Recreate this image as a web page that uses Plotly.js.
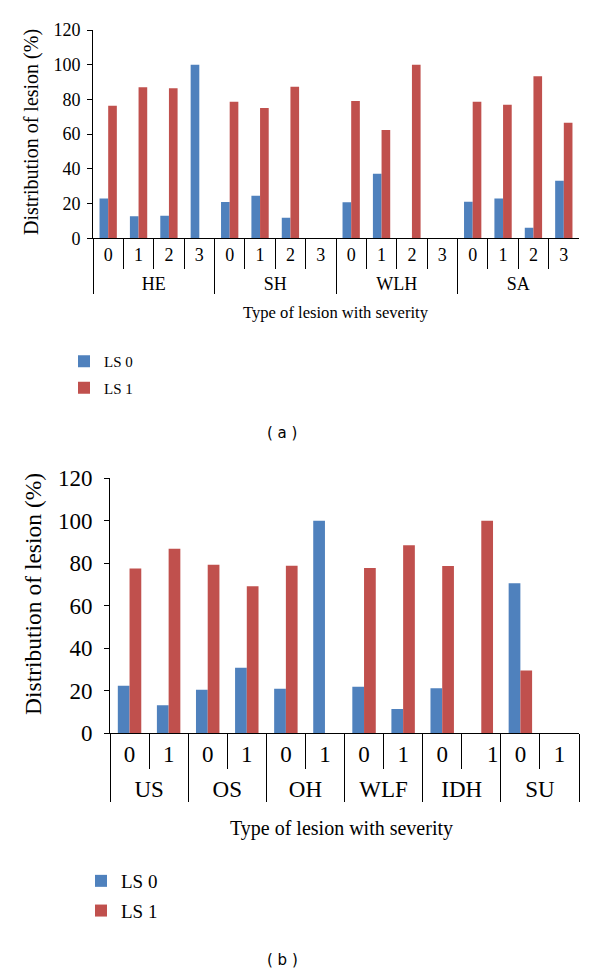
<!DOCTYPE html>
<html>
<head>
<meta charset="utf-8">
<script src="https://cdn.plot.ly/plotly-3.0.1.min.js"></script>
<style>html,body{margin:0;padding:0;background:#fff;}#chart{width:600px;height:976px;}</style>
</head>
<body>
<div id="chart"></div>
<script>
// ---- data (a) ----
const groupsA = ['HE', 'SH', 'WLH', 'SA'];
const severityA = ['0', '1', '2', '3'];
const ls0A = [23.0, 12.7, 13.0, 100, 20.9, 24.5, 11.9, null, 20.7, 37.2, 0, null, 21.1, 23.0, 6.1, 33.2];
const ls1A = [76.4, 87.0, 86.4, 0, 78.7, 75.1, 87.3, null, 79.1, 62.4, 100, null, 78.7, 77.0, 93.3, 66.6];

// ---- data (b) ----
const groupsB = ['US', 'OS', 'OH', 'WLF', 'IDH', 'SU'];
const severityB = ['0', '1'];
const ls0B = [22.4, 13.2, 20.5, 30.9, 21.0, 100, 21.9, 11.4, 21.2, 0, 70.6, null];
const ls1B = [77.5, 86.9, 79.3, 69.2, 78.9, 0, 77.8, 88.5, 78.7, 100, 29.6, null];

const seriesNames = ['LS 0', 'LS 1'];
const yTicks = [0, 20, 40, 60, 80, 100, 120];

// pad labels with a tall invisible space so the second label row sits lower (as in the original)
function multiX(groups, sevs, padSize, shifted) {
  const g = [], s = [];
  const pad = '<span style="font-size:' + padSize + 'px">\u00a0</span>';
  groups.forEach(gr => sevs.forEach(sv => {
    g.push(gr);
    const key = gr + ':' + sv;
    if (shifted && shifted === key) s.push(pad + '\u2007\u2007' + sv + pad);
    else s.push(pad + sv + pad);
  }));
  return [g, s];
}
const xA = multiX(groupsA, severityA, 25);
const xB = multiX(groupsB, severityB, 30, 'IDH:1');

const BLUE = '#4F81BD', RED = '#C0504D';
const SERIF = 'Liberation Serif, Times New Roman, serif';

const traces = [
  {type: 'bar', x: xA, y: ls0A, name: seriesNames[0], marker: {color: BLUE}, xaxis: 'x', yaxis: 'y', width: 0.285, offset: -0.285, legend: 'legend', legendgroup: 'a0'},
  {type: 'bar', x: xA, y: ls1A, name: seriesNames[1], marker: {color: RED}, xaxis: 'x', yaxis: 'y', width: 0.285, offset: 0, legend: 'legend', legendgroup: 'a1'},
  {type: 'bar', x: xB, y: ls0B, name: seriesNames[0], marker: {color: BLUE}, xaxis: 'x2', yaxis: 'y2', width: 0.3, offset: -0.3, legend: 'legend2', legendgroup: 'b0'},
  {type: 'bar', x: xB, y: ls1B, name: seriesNames[1], marker: {color: RED}, xaxis: 'x2', yaxis: 'y2', width: 0.3, offset: 0, legend: 'legend2', legendgroup: 'b1'}
];

const W = 600, H = 976;
const px = v => v / W;
const py = v => 1 - v / H;

function xaxisDef(domain, size, anchor, ticklen) {
  return {
    domain: domain, anchor: anchor, type: 'multicategory',
    showline: true, linecolor: '#000', linewidth: 1,
    ticks: 'outside', ticklen: ticklen, tickcolor: '#000', tickwidth: 1,
    showdividers: true, dividercolor: '#000', dividerwidth: 1,
    showgrid: false, zeroline: false, tickangle: 0,
    tickfont: {family: SERIF, size: size, color: '#000'}
  };
}
function yaxisDef(domain, size, anchor, standoff) {
  return {
    domain: domain, anchor: anchor, range: [0, 120], tickvals: yTicks,
    showline: true, linecolor: '#000', linewidth: 1,
    ticks: 'outside', ticklen: 5, tickcolor: '#000', ticklabelstandoff: standoff,
    showgrid: false, zeroline: false,
    tickfont: {family: SERIF, size: size, color: '#000'}
  };
}

const layout = {
  width: W, height: H,
  margin: {l: 0, r: 0, t: 0, b: 0},
  paper_bgcolor: '#fff', plot_bgcolor: '#fff',
  barmode: 'group',
  xaxis: xaxisDef([px(93), px(579)], 18, 'y', 30),
  yaxis: yaxisDef([py(238.3), py(30)], 18, 'x', 3),
  xaxis2: xaxisDef([px(110), px(579)], 23, 'y2', 35),
  yaxis2: yaxisDef([py(733.3), py(478.3)], 23, 'x2', 7),
  legend: {x: px(64), y: py(345), xanchor: 'left', yanchor: 'top', bgcolor: 'rgba(0,0,0,0)',
           font: {family: SERIF, size: 15, color: '#000'}, tracegroupgap: 4, traceorder: 'grouped'},
  legend2: {x: px(81), y: py(862), xanchor: 'left', yanchor: 'top', bgcolor: 'rgba(0,0,0,0)',
           font: {family: SERIF, size: 19, color: '#000'}, tracegroupgap: 2, traceorder: 'grouped'},
  annotations: [
    {text: 'Distribution of lesion (%)', xref: 'paper', yref: 'paper', x: px(32), y: py(132), textangle: -90,
     showarrow: false, xanchor: 'center', yanchor: 'middle', font: {family: SERIF, size: 20, color: '#000'}},
    {text: 'Type of lesion with severity', xref: 'paper', yref: 'paper', x: px(336), y: py(312),
     showarrow: false, xanchor: 'center', yanchor: 'middle', font: {family: SERIF, size: 16.6, color: '#000'}},
    {text: '( a )', xref: 'paper', yref: 'paper', x: px(282), y: py(433),
     showarrow: false, xanchor: 'center', yanchor: 'middle', font: {family: 'DejaVu Sans, sans-serif', size: 15, color: '#000'}},
    {text: 'Distribution of lesion (%)', xref: 'paper', yref: 'paper', x: px(33), y: py(594), textangle: -90,
     showarrow: false, xanchor: 'center', yanchor: 'middle', font: {family: SERIF, size: 23.5, color: '#000'}},
    {text: 'Type of lesion with severity', xref: 'paper', yref: 'paper', x: px(342), y: py(828),
     showarrow: false, xanchor: 'center', yanchor: 'middle', font: {family: SERIF, size: 20, color: '#000'}},
    {text: '( b )', xref: 'paper', yref: 'paper', x: px(282), y: py(960),
     showarrow: false, xanchor: 'center', yanchor: 'middle', font: {family: 'DejaVu Sans, sans-serif', size: 15, color: '#000'}}
  ]
};

Plotly.newPlot('chart', traces, layout, {displayModeBar: false, staticPlot: true});
</script>
</body>
</html>
